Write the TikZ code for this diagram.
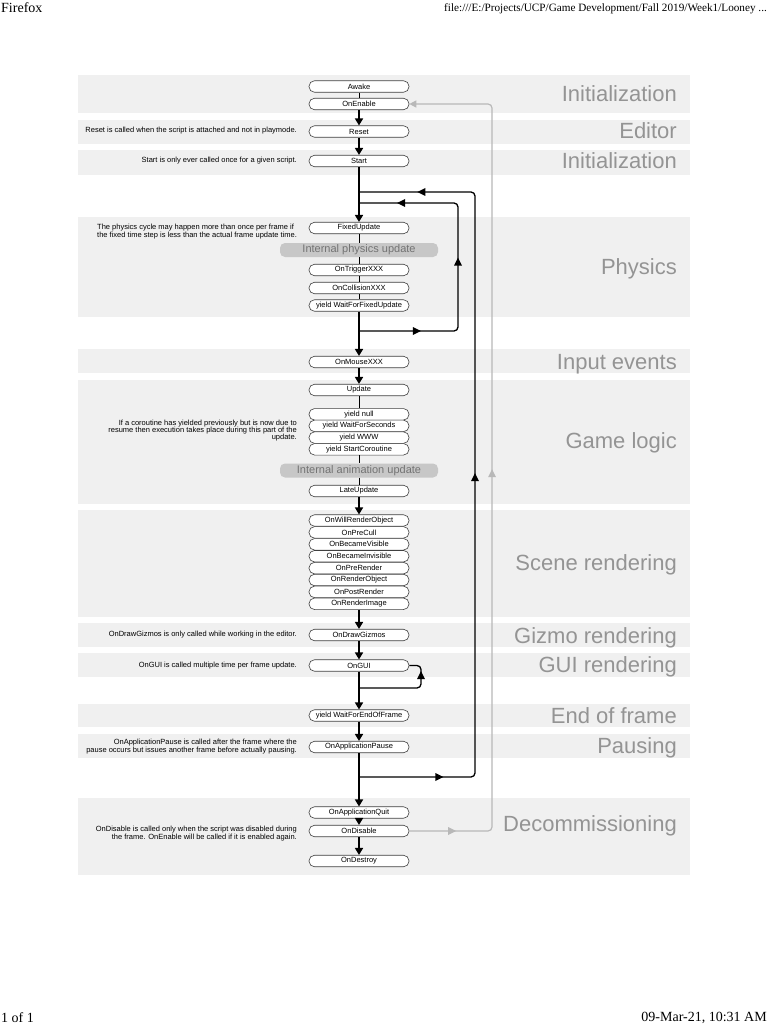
\documentclass[tikz,border=0pt]{standalone}
\usepackage{fontspec}
\setmainfont{Liberation Sans}
\newfontfamily\tnr{Liberation Serif}
\usetikzlibrary{arrows.meta,shapes.geometric}
\begin{document}
\begin{tikzpicture}[x=1pt,y=-1pt,
  band/.style={fill=black!6, draw=none},
  bandlabel/.style={anchor=base east, text=black!42, font=\fontsize{22}{24}\selectfont, inner sep=0pt},
  fn/.style={draw=black!75, line width=0.6pt, fill=white, rounded corners=5.5pt, minimum width=100pt, minimum height=11.5pt, inner sep=0pt, font=\fontsize{7.5}{8}\selectfont},
  internal/.style={fill=black!22, draw=none, rounded corners=5pt, minimum width=158pt, minimum height=14pt, inner sep=0pt, text=black!55, font=\fontsize{11}{12}\selectfont},
  note/.style={anchor=east, align=right, inner sep=0pt, font=\fontsize{7.5}{7.2}\selectfont},
  flow/.style={line width=1.6pt, -{Triangle[length=7pt,width=8pt]}},
  link/.style={line width=1pt},
  loopline/.style={line width=1.3pt, rounded corners=4pt},
  gloopline/.style={line width=1.2pt, draw=black!28, rounded corners=4pt},
  arrowmk/.style={isosceles triangle, isosceles triangle stretches, sharp corners, fill=black, draw=none, inner sep=0pt, minimum width=8pt, minimum height=8pt, sloped, allow upside down},
  garrowmk/.style={arrowmk, fill=black!28},
  hdr/.style={font=\tnr\fontsize{14}{15}\selectfont, inner sep=0pt},
]
\useasboundingbox (0,0) rectangle (768,1024);
\fill[white] (0,0) rectangle (768,1024);

% header and footer
\node[hdr, anchor=north west] (hleft) at (1,2) {Firefox};
\node[hdr, anchor=north east, font=\tnr\fontsize{11.2}{13}\selectfont] (hright) at (767,3) {file:///E:/Projects/UCP/Game Development/Fall 2019/Week1/Looney ...};
\node[hdr, anchor=west] (fleft) at (1,1018) {1 of 1};
\node[hdr, anchor=east] (fright) at (767,1018) {09-Mar-21, 10:31 AM};

% bands
\fill[band] (78,75) rectangle (690,113);
\fill[band] (78,120) rectangle (690,144);
\fill[band] (78,150) rectangle (690,175);
\fill[band] (78,217) rectangle (690,317);
\fill[band] (78,349) rectangle (690,373);
\fill[band] (78,380) rectangle (690,504);
\fill[band] (78,510) rectangle (690,617);
\fill[band] (78,623) rectangle (690,647);
\fill[band] (78,653) rectangle (690,677);
\fill[band] (78,704) rectangle (690,727);
\fill[band] (78,734) rectangle (690,758);
\fill[band] (78,798) rectangle (690,875);

% band labels
\node[bandlabel] (lb1) at (677,102) {Initialization};
\node[bandlabel] (lb2) at (677,139) {Editor};
\node[bandlabel] (lb3) at (677,169) {Initialization};
\node[bandlabel] (lb4) at (677,274) {Physics};
\node[bandlabel] (lb5) at (677,369) {Input events};
\node[bandlabel] (lb6) at (677,448) {Game logic};
\node[bandlabel] (lb7) at (677,570) {Scene rendering};
\node[bandlabel] (lb8) at (677,643) {Gizmo rendering};
\node[bandlabel] (lb9) at (677,672) {GUI rendering};
\node[bandlabel] (lb10) at (677,723) {End of frame};
\node[bandlabel] (lb11) at (677,753) {Pausing};
\node[bandlabel] (lb12) at (677,831) {Decommissioning};

% notes
\node[note] (nreset) at (297,131) {Reset is called when the script is attached and not in playmode.};
\node[note] (nstart) at (297,161) {Start is only ever called once for a given script.};
\node[note, anchor=west, align=left] (nphys) at (97,231.5) {The physics cycle may happen more than once per frame if\\the fixed time step is less than the actual frame update time.};
\node[note] (ncor) at (297,430.5) {If a coroutine has yielded previously but is now due to\\resume then execution takes place during this part of the\\update.};
\node[note] (ngiz) at (297,635) {OnDrawGizmos is only called while working in the editor.};
\node[note] (ngui) at (297,665.5) {OnGUI is called multiple time per frame update.};
\node[note, font=\fontsize{7.5}{8.6}\selectfont] (npause) at (297,746.5) {OnApplicationPause is called after the frame where the\\pause occurs but issues another frame before actually pausing.};
\node[note] (ndis) at (297,833.5) {OnDisable is called only when the script was disabled during\\the frame. OnEnable will be called if it is enabled again.};

% loops (drawn first so the boxes sit above)
\coordinate (inA) at (359,331);
\coordinate (inB) at (458,331);
\coordinate (inC) at (458,203);
\coordinate (inD) at (359,203);
\draw[loopline] (inA) -- node[arrowmk,pos=0.57]{} (inB) -- node[arrowmk,pos=0.53]{} (inC) -- node[arrowmk,pos=0.56]{} (inD);

\coordinate (outA) at (359,777);
\coordinate (outB) at (475,777);
\coordinate (outC) at (475,192);
\coordinate (outD) at (359,192);
\draw[loopline] (outA) -- node[arrowmk,pos=0.68]{} (outB) -- node[arrowmk,pos=0.51]{} (outC) -- node[arrowmk,pos=0.45]{} (outD);

% nodes
\node[fn] (awake) at (359,86.5) {Awake};
\node[fn] (onenable) at (359,104) {OnEnable};
\node[fn] (reset) at (359,131.5) {Reset};
\node[fn] (start) at (359,161) {Start};
\node[fn] (fixed) at (359,228) {FixedUpdate};
\node[internal] (iphys) at (359,250) {Internal physics update};
\node[fn] (trigger) at (359,270) {OnTriggerXXX};
\node[fn] (collision) at (359,288) {OnCollisionXXX};
\node[fn] (wffu) at (359,305.5) {yield WaitForFixedUpdate};
\node[fn] (mouse) at (359,362) {OnMouseXXX};
\node[fn] (update) at (359,390) {Update};
\node[fn] (ynull) at (359,414.3) {yield null};
\node[fn] (ywfs) at (359,425.9) {yield WaitForSeconds};
\node[fn] (ywww) at (359,437.6) {yield WWW};
\node[fn] (ysc) at (359,449.3) {yield StartCoroutine};
\node[internal] (ianim) at (359,470.5) {Internal animation update};
\node[fn] (late) at (359,491) {LateUpdate};
\node[fn] (willrender) at (359,520.5) {OnWillRenderObject};
\node[fn] (precull) at (359,532.4) {OnPreCull};
\node[fn] (visible) at (359,544.3) {OnBecameVisible};
\node[fn] (invisible) at (359,556.2) {OnBecameInvisible};
\node[fn] (prerender) at (359,568.1) {OnPreRender};
\node[fn] (renderobj) at (359,580) {OnRenderObject};
\node[fn] (postrender) at (359,591.9) {OnPostRender};
\node[fn] (renderimg) at (359,603.8) {OnRenderImage};
\node[fn] (gizmos) at (359,635) {OnDrawGizmos};
\node[fn] (ongui) at (359,665.5) {OnGUI};
\node[fn] (wfeof) at (359,715.5) {yield WaitForEndOfFrame};
\node[fn] (pause) at (359,747) {OnApplicationPause};
\node[fn] (quit) at (359,812.5) {OnApplicationQuit};
\node[fn] (ondisable) at (359,831) {OnDisable};
\node[fn] (destroy) at (359,861) {OnDestroy};

% gray re-enable loop
\coordinate (gx) at (492,0);
\draw[gloopline, -{Triangle[length=7pt,width=7pt]}] (ondisable.east) -- node[garrowmk,pos=0.5]{} (ondisable.east -| gx) -- node[garrowmk,pos=0.49]{} (gx |- onenable.east) -- (onenable.east);

% GUI loop
\coordinate (guiA) at (359,688);
\coordinate (guiB) at (421,688);
\draw[loopline] (guiA) -- (guiB) -- node[arrowmk,pos=0.5]{} (guiB |- ongui.east) -- (ongui.east);

% main flow
\draw[link] (awake) -- (onenable);
\draw[flow] (onenable) -- (reset);
\draw[flow] (reset) -- (start);
\draw[flow] (start) -- (fixed);
\draw[link] (fixed) -- (iphys);
\draw[link] (iphys) -- (trigger);
\draw[link] (trigger) -- (collision);
\draw[link] (collision) -- (wffu);
\draw[flow] (wffu) -- (mouse);
\draw[flow] (mouse) -- (update);
\draw[link] (update) -- (ynull);
\draw[link] (ysc) -- (ianim);
\draw[link] (ianim) -- (late);
\draw[flow] (late) -- (willrender);
\draw[flow] (renderimg) -- (gizmos);
\draw[flow] (gizmos) -- (ongui);
\draw[flow] (ongui) -- (wfeof);
\draw[flow] (wfeof) -- (pause);
\draw[flow] (pause) -- (quit);
\draw[flow] (quit) -- (ondisable);
\draw[flow] (ondisable) -- (destroy);
\end{tikzpicture}
\end{document}
